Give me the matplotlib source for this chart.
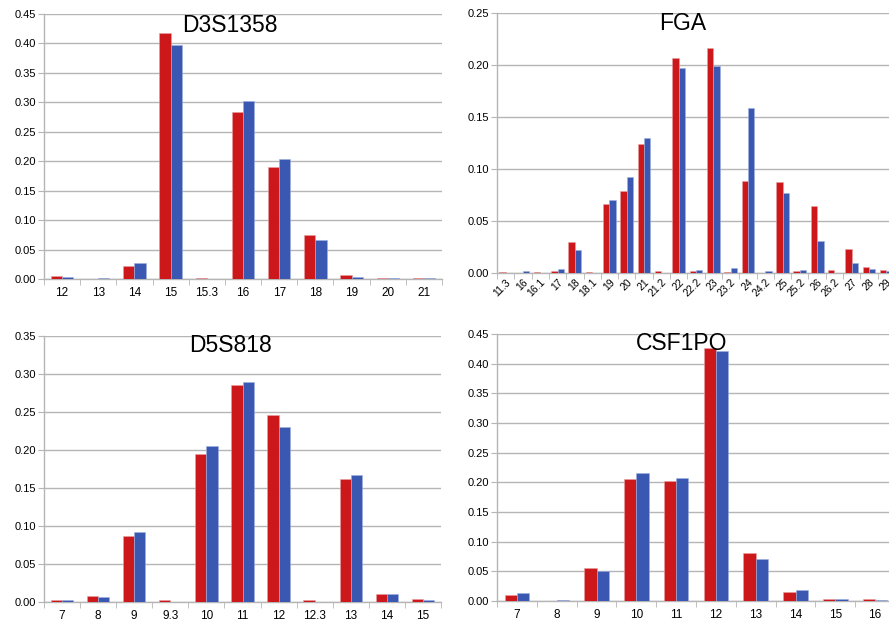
import numpy as np
import matplotlib.pyplot as plt
from matplotlib.ticker import FixedLocator, FormatStrFormatter

plt.rcParams['font.family'] = ['Liberation Sans', 'DejaVu Sans']

RED = '#CC171B'
BLUE = '#3A58B1'
GRID = '#B5B5B5'

# D3S1358
d3_alleles = ['12', '13', '14', '15', '15.3', '16', '17', '18', '19', '20', '21']
d3_red = [0.005, 0.0, 0.022, 0.418, 0.002, 0.284, 0.191, 0.074, 0.006, 0.002, 0.002]
d3_blue = [0.003, 0.002, 0.028, 0.398, 0.0, 0.303, 0.203, 0.066, 0.004, 0.002, 0.002]

# FGA
fga_alleles = ['11.3', '16', '16.1', '17', '18', '18.1', '19', '20', '21', '21.2', '22',
               '22.2', '23', '23.2', '24', '24.2', '25', '25.2', '26', '26.2', '27', '28', '29']
fga_red = [0.001, 0.0, 0.001, 0.002, 0.030, 0.001, 0.066, 0.079, 0.124, 0.0015, 0.207,
           0.002, 0.216, 0.001, 0.0885, 0.0, 0.0875, 0.0015, 0.064, 0.003, 0.023, 0.006, 0.0025]
fga_blue = [0.0, 0.0015, 0.0, 0.0035, 0.022, 0.0, 0.070, 0.0925, 0.130, 0.0, 0.197,
            0.0025, 0.199, 0.005, 0.159, 0.002, 0.077, 0.0025, 0.031, 0.0, 0.0096, 0.0035, 0.0015]

# D5S818
d5_alleles = ['7', '8', '9', '9.3', '10', '11', '12', '12.3', '13', '14', '15']
d5_red = [0.002, 0.008, 0.087, 0.002, 0.195, 0.285, 0.246, 0.002, 0.1625, 0.010, 0.004]
d5_blue = [0.003, 0.007, 0.092, 0.0, 0.2055, 0.289, 0.2305, 0.0, 0.1665, 0.010, 0.002]

# CSF1PO
csf_alleles = ['7', '8', '9', '10', '11', '12', '13', '14', '15', '16']
csf_red = [0.0107, 0.0, 0.055, 0.205, 0.202, 0.427, 0.0816, 0.0146, 0.003, 0.003]
csf_blue = [0.0135, 0.0015, 0.050, 0.216, 0.207, 0.421, 0.070, 0.019, 0.004, 0.0015]


def panel(fig, rect, title, tpos, alleles, red, blue, ymax, rot=False):
    ax = fig.add_axes(rect)
    x = np.arange(len(alleles))
    w = 0.37 if rot else 0.31
    ax.bar(x - w / 2, red, w, color=RED, edgecolor='#E8A0A0', linewidth=0.4, zorder=3)
    ax.bar(x + w / 2, blue, w, color=BLUE, edgecolor='#9FB0E0', linewidth=0.4, zorder=3)
    ax.set_xlim(-0.5, len(alleles) - 0.5)
    ax.set_ylim(0, ymax)
    ax.set_yticks(np.arange(0, ymax + 0.001, 0.05))
    ax.yaxis.set_major_formatter(FormatStrFormatter('%.2f'))
    ax.grid(axis='y', color=GRID, linewidth=1.0, zorder=0)
    for s in ['top', 'right']:
        ax.spines[s].set_visible(False)
    for s in ['left', 'bottom']:
        ax.spines[s].set_color(GRID)
        ax.spines[s].set_linewidth(1.0)
    ax.set_xticks(x)
    ax.xaxis.set_minor_locator(FixedLocator(np.arange(-0.5, len(alleles), 1.0)))
    ax.tick_params(axis='x', which='major', length=0, pad=6)
    ax.tick_params(axis='x', which='minor', length=4, color=GRID)
    ax.tick_params(axis='y', length=4, color=GRID, labelsize=8, pad=2)
    if rot:
        ax.set_xticklabels(alleles, rotation=45, ha='right', rotation_mode='anchor', fontsize=7.5)
        ax.tick_params(axis='x', which='major', pad=3)
    else:
        ax.set_xticklabels(alleles, fontsize=8.5)
    fig.text(tpos[0] / 889, 1 - tpos[1] / 621, title, ha='center', va='center', fontsize=16.5)
    return ax


fig = plt.figure(figsize=(8.89, 6.21), dpi=100)

panel(fig, [44 / 889, 1 - 279 / 621, 398 / 889, 265 / 621], 'D3S1358', (230, 25),
      d3_alleles, d3_red, d3_blue, 0.45)
panel(fig, [497 / 889, 1 - 273 / 621, 398 / 889, 260 / 621], 'FGA', (683, 23),
      fga_alleles, fga_red, fga_blue, 0.25, rot=True)
panel(fig, [44 / 889, 1 - 602 / 621, 397 / 889, 266 / 621], 'D5S818', (230, 346),
      d5_alleles, d5_red, d5_blue, 0.35)
panel(fig, [497 / 889, 1 - 601 / 621, 398 / 889, 267 / 621], 'CSF1PO', (682, 343),
      csf_alleles, csf_red, csf_blue, 0.45)

fig.savefig('out.png', dpi=100)
